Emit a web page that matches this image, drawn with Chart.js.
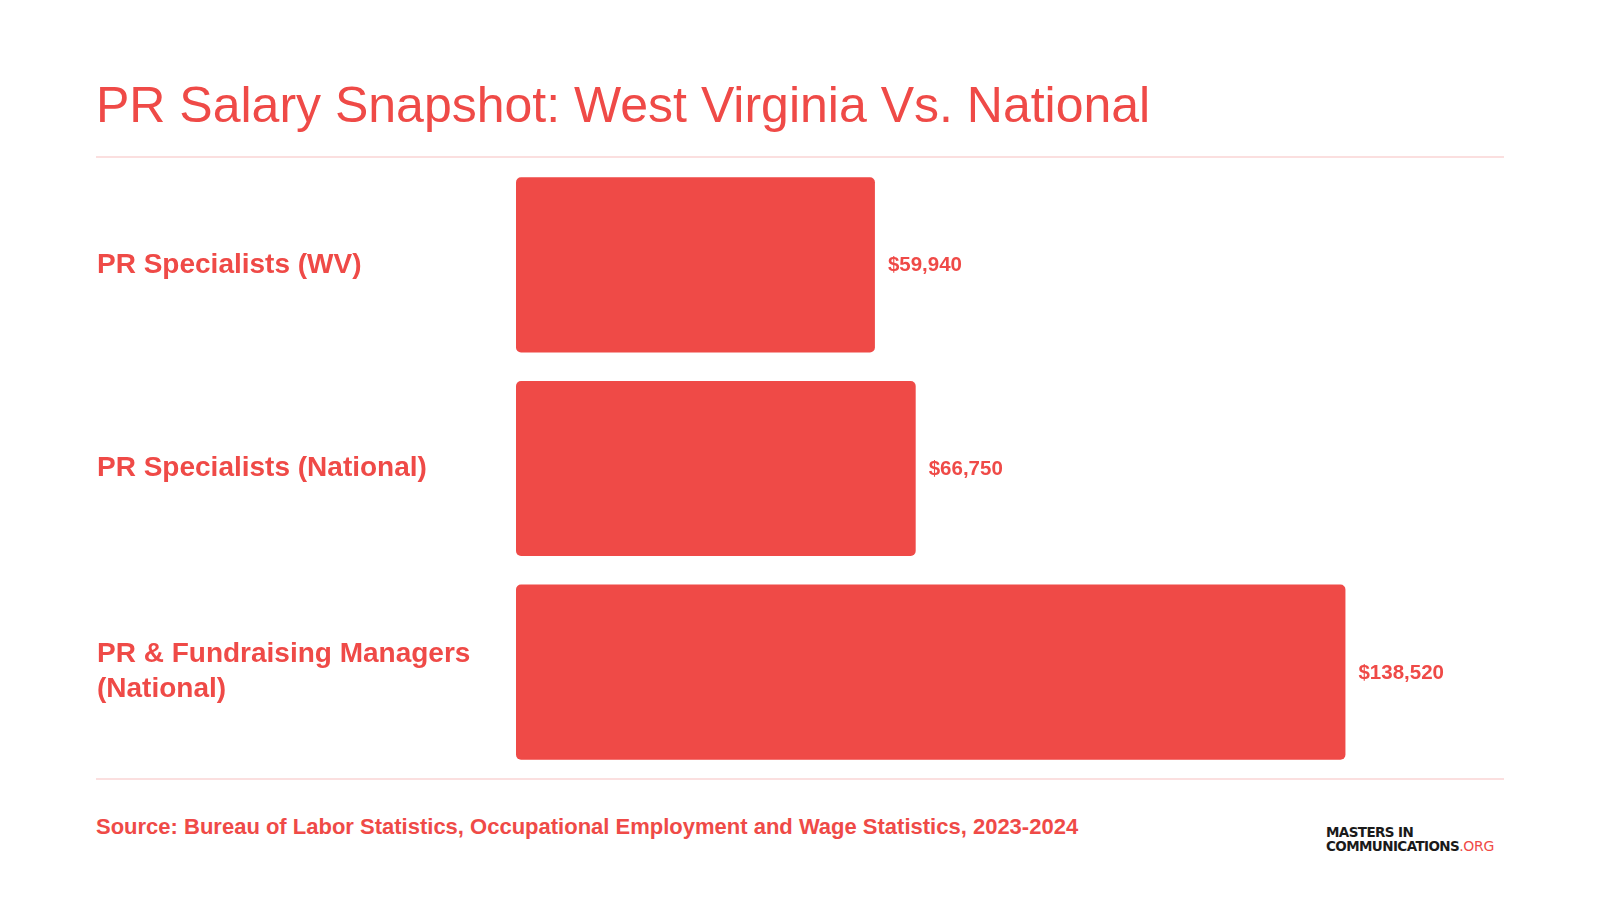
<!DOCTYPE html>
<html>
<head>
<meta charset="utf-8">
<script src="https://cdn.jsdelivr.net/npm/chart.js@4"></script>
<style>
  body { margin: 0; width: 1600px; height: 900px; background: #fff; position: relative; overflow: hidden; font-family: Helvetica, Arial, "Liberation Sans", sans-serif; }
  .title { position: absolute; left: 96px; top: 80px; font-size: 50px; line-height: 50px; color: #ef4a47; white-space: nowrap; }
  .rule { position: absolute; left: 96px; width: 1408px; height: 2px; background: #fbdfdf; }
  .chart-box { position: absolute; left: 0; top: 160px; width: 1600px; height: 620px; }
  .source { position: absolute; left: 96px; top: 816px; font-size: 22px; line-height: 22px; font-weight: bold; color: #ef4a47; white-space: nowrap; }
  .logo { position: absolute; left: 1326px; top: 825px; font-family: "DejaVu Sans", sans-serif; font-weight: bold; font-size: 13.5px; line-height: 14px; color: #1a1a1a; letter-spacing: -0.6px; white-space: nowrap; }
  .logo span { color: #ef4a47; font-weight: normal; font-size: 14px; letter-spacing: -0.3px; }
</style>
</head>
<body>
<div class="title">PR Salary Snapshot: West Virginia Vs. National</div>
<div class="rule" style="top:156px"></div>
<div class="chart-box"><canvas id="salaryChart"></canvas></div>
<div class="rule" style="top:778px"></div>
<div class="source">Source: Bureau of Labor Statistics, Occupational Employment and Wage Statistics, 2023-2024</div>
<div class="logo">MASTERS IN<br>COMMUNICATIONS<span>.ORG</span></div>
<script>
// 類別
const categories = [
    'PR Specialists (WV)',
    'PR Specialists (National)',
    ['PR & Fundraising Managers', '(National)']
];
// 年薪
const salaries = [59940, 66750, 138520];
// x 軸上限
const xMax = 165000;

const red = '#ef4a47';

const valueLabels = {
    id: 'valueLabels',
    afterDatasetsDraw(chart) {
        const ctx = chart.ctx;
        const meta = chart.getDatasetMeta(0);
        ctx.save();
        ctx.fillStyle = red;
        ctx.font = 'bold 20.5px Helvetica, Arial, "Liberation Sans", sans-serif';
        ctx.textAlign = 'left';
        ctx.textBaseline = 'middle';
        meta.data.forEach((bar, i) => {
            ctx.fillText('$' + salaries[i].toLocaleString('en-US'), bar.x + 13, bar.y + 1);
        });
        ctx.restore();
    }
};

new Chart(document.getElementById('salaryChart'), {
    type: 'bar',
    data: {
        labels: categories,
        datasets: [{
            data: salaries,
            backgroundColor: red,
            borderRadius: 5,
            borderSkipped: false,
            categoryPercentage: 1,
            barPercentage: 0.86
        }]
    },
    options: {
        indexAxis: 'y',
        responsive: true,
        maintainAspectRatio: false,
        animation: false,
        layout: {
            padding: { left: 97, right: 96, top: 3, bottom: 6 }
        },
        plugins: {
            legend: { display: false },
            tooltip: { enabled: false }
        },
        scales: {
            x: {
                display: false,
                min: 0,
                max: xMax
            },
            y: {
                grid: { display: false, drawTicks: false },
                border: { display: false },
                afterFit(scale) {
                    scale.width = 419;
                    // 多行標籤不要撐開上下留白
                    scale.paddingTop = 0;
                    scale.paddingBottom = 0;
                },
                ticks: {
                    crossAlign: 'far',
                    padding: 0,
                    color: red,
                    font: {
                        family: 'Helvetica, Arial, "Liberation Sans", sans-serif',
                        size: 28,
                        weight: 'bold',
                        lineHeight: 1.25
                    }
                }
            }
        }
    },
    plugins: [valueLabels]
});
</script>
</body>
</html>
